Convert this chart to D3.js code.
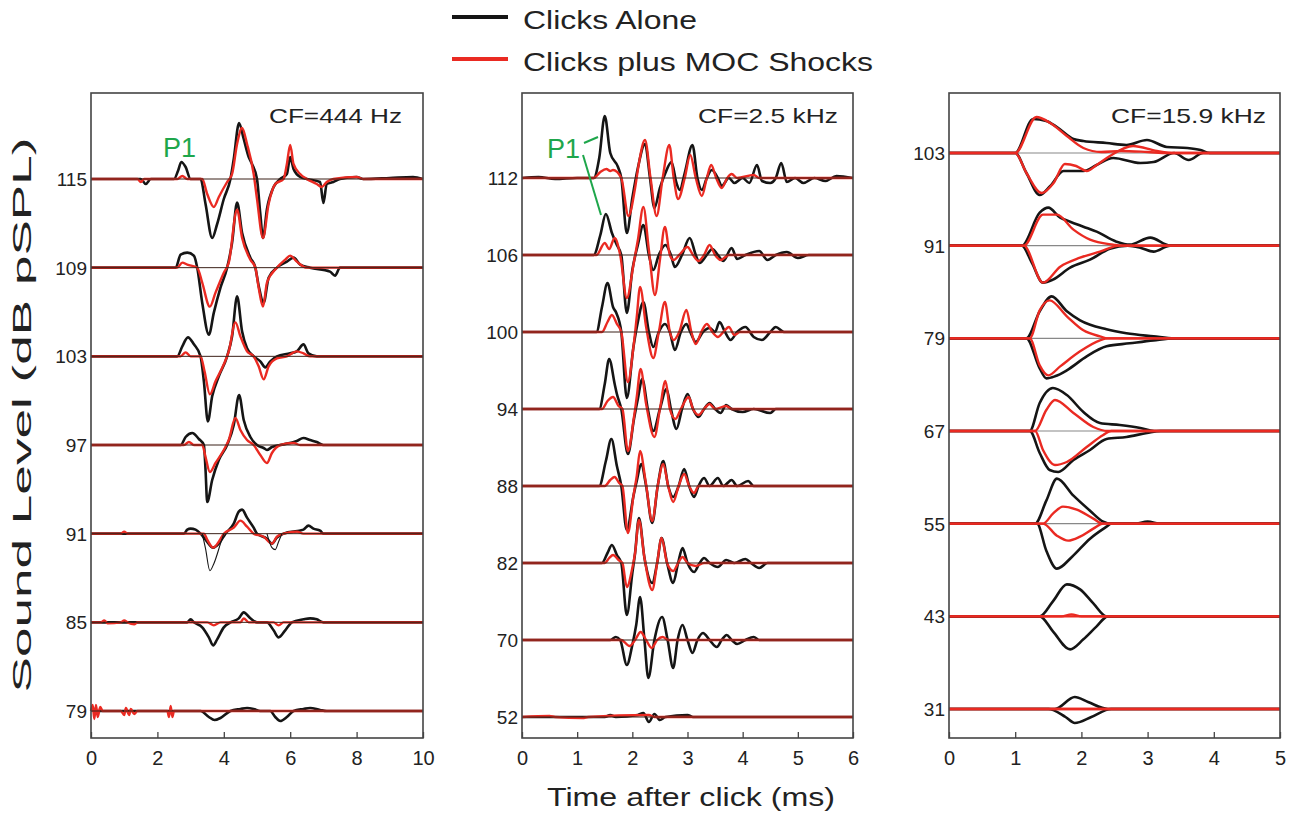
<!DOCTYPE html>
<head>
  <meta charset="utf-8">
  <script src="https://d3js.org/d3.v7.min.js"></script>
  <style>
    body { margin:0; background:#fff; }
    text { font-family: "Liberation Sans", Arial, sans-serif; fill:#222; }
    .tick text { font-family: "Liberation Sans Narrow", "Liberation Sans", Arial, sans-serif; font-size:20px; fill:#222; }
    .tick line { stroke:#444; stroke-width:1.3; }
    .frame { fill:none; stroke:#444; stroke-width:1.6; }
    .black { fill:none; stroke:#151515; stroke-width:2.6; stroke-linejoin:round; }
    .thin { fill:none; stroke:#151515; stroke-width:1.1; }
    .red { fill:none; stroke:#ea2a22; stroke-width:2.4; stroke-linejoin:round; }
    .base { stroke:#3b2018; stroke-width:1; }
    .base3 { stroke:#888; stroke-width:1.2; }
    .rowlab { font-size:19px; }
    .cf { font-size:21px; }
    .p1 { font-size:27px; fill:#1ea64b; }
  </style>
</head>

<body>
  <script>
    // ---- data: amplitudes (arbitrary units, + is up) ----
    // left panel, CF = 444 Hz, time 0-10 ms
    var lowRows = ["115", "109", "103", "97", "91", "85", "79"];
    var lowBlack = [
      [[0,0],[1.5,0],[1.65,-5],[1.8,0],[2.5,0],[2.62,8],[2.72,17],[2.85,12],[3.0,0],[3.3,0],[3.45,-25],[3.65,-59],[3.8,-45],[4.0,-20],[4.2,0],[4.3,20],[4.46,56],[4.6,40],[4.75,22],[4.85,15],[5.0,0],[5.1,-35],[5.18,-59],[5.3,-30],[5.5,-8],[5.7,0],[5.9,5],[6.0,22],[6.1,10],[6.3,2],[6.5,0],[6.9,-3],[7.0,-24],[7.1,-5],[7.3,-3],[7.5,0],[8.0,2],[8.2,0],[9.0,1],[9.7,2],[10,0]],
      [[0,0],[2.55,0],[2.7,13],[2.9,15],[3.1,12],[3.2,0],[3.35,-35],[3.55,-67],[3.7,-45],[3.9,-20],[4.1,0],[4.25,25],[4.4,65],[4.55,35],[4.8,10],[4.95,0],[5.05,-18],[5.2,-35],[5.35,-10],[5.6,0],[5.9,6],[6.1,10],[6.3,3],[6.6,0],[7.2,-4],[7.35,-8],[7.5,0],[10,0]],
      [[0,0],[2.6,0],[2.75,10],[2.92,19],[3.1,12],[3.3,0],[3.4,-25],[3.52,-65],[3.65,-40],[3.85,-20],[4.1,0],[4.25,20],[4.4,60],[4.55,25],[4.7,8],[4.9,0],[5.1,-5],[5.25,-11],[5.4,-5],[5.6,0],[6.0,3],[6.2,5],[6.4,12],[6.55,3],[6.8,0],[10,0]],
      [[0,0],[2.7,0],[2.85,8],[3.05,12],[3.25,6],[3.4,0],[3.45,-25],[3.5,-57],[3.65,-35],[3.85,-15],[4.1,0],[4.3,20],[4.46,50],[4.6,25],[4.8,8],[5.0,0],[5.2,-3],[5.3,-5],[5.45,-2],[5.7,0],[6.2,4],[6.4,7],[6.6,5],[6.8,3],[7.0,0],[10,0]],
      [[0,0],[2.8,0],[2.9,4],[3.0,5],[3.15,4],[3.3,0],[3.45,-6],[3.68,-14],[3.85,-10],[4.05,0],[4.3,10],[4.45,22],[4.55,24],[4.7,16],[4.9,6],[5.0,0],[5.3,-5],[5.45,-10],[5.6,-4],[5.8,0],[6.4,4],[6.55,8],[6.7,5],[6.9,3],[7.0,0],[10,0]],
      [[0,0],[2.9,0],[3.0,3],[3.1,0],[3.35,-5],[3.55,-15],[3.68,-23],[3.8,-17],[4.0,-5],[4.2,0],[4.45,4],[4.6,10],[4.8,4],[5.0,0],[5.3,0],[5.5,-8],[5.65,-15],[5.85,-8],[6.05,0],[6.4,3],[6.6,4],[6.8,3],[7.0,0],[10,0]],
      [[0,0],[0.1,2],[0.2,0],[3.3,0],[3.55,-6],[3.72,-9],[3.9,-7],[4.2,0],[4.5,2],[4.7,3],[4.9,2],[5.1,0],[5.4,0],[5.55,-6],[5.7,-10],[5.9,-6],[6.1,0],[6.4,2],[6.6,3],[6.9,1],[7.1,0],[10,0]]
    ];
    var lowRed = [
      [[0,0],[1.4,0],[1.5,-3],[1.6,0],[2.6,0],[2.75,3],[2.9,0],[3.35,0],[3.5,-15],[3.7,-28],[3.85,-18],[4.1,-3],[4.25,5],[4.4,35],[4.55,51],[4.7,35],[4.9,5],[5.0,-20],[5.18,-59],[5.35,-25],[5.55,-5],[5.8,0],[5.9,15],[6.0,34],[6.1,15],[6.3,5],[6.5,0],[6.8,-5],[6.95,-8],[7.1,-3],[7.3,0],[8.0,2],[8.2,0],[10,0]],
      [[0,0],[2.6,0],[2.75,5],[2.9,3],[3.2,0],[3.35,-15],[3.58,-39],[3.75,-25],[4.0,-5],[4.15,5],[4.4,58],[4.55,30],[4.8,8],[4.95,0],[5.05,-20],[5.18,-39],[5.3,-15],[5.6,0],[5.85,8],[6.0,12],[6.2,6],[6.5,0],[10,0]],
      [[0,0],[2.7,0],[2.85,4],[3.0,0],[3.3,0],[3.42,-15],[3.58,-38],[3.75,-25],[4.0,-8],[4.15,5],[4.35,34],[4.5,20],[4.7,5],[4.9,0],[5.05,-10],[5.2,-23],[5.35,-10],[5.6,-2],[5.9,0],[6.2,5],[6.4,3],[6.6,0],[10,0]],
      [[0,0],[2.8,0],[2.95,3],[3.1,0],[3.35,0],[3.45,-12],[3.58,-27],[3.75,-18],[4.0,-5],[4.15,5],[4.35,27],[4.5,15],[4.7,5],[4.9,0],[5.1,-10],[5.3,-18],[5.45,-8],[5.7,0],[6.1,2],[6.3,0],[10,0]],
      [[0,0],[0.9,0],[1.0,2],[1.1,0],[3.4,0],[3.5,-6],[3.68,-14],[3.85,-8],[4.0,0],[4.3,6],[4.5,13],[4.7,7],[4.9,0],[5.2,-3],[5.45,-10],[5.6,-3],[5.8,0],[6.2,2],[6.4,0],[10,0]],
      [[0,0],[0.3,0],[0.4,2],[0.5,-1],[0.9,0],[1.0,2],[1.1,0],[1.3,-2],[1.4,0],[3.5,0],[3.7,-3],[3.9,0],[4.5,0],[4.6,4],[4.75,0],[5.5,0],[5.65,-3],[5.8,0],[10,0]],
      [[0,0],[0.05,6],[0.1,-8],[0.15,6],[0.2,-6],[0.28,4],[0.35,0],[0.9,0],[1.0,-4],[1.05,3],[1.15,-4],[1.2,2],[1.3,-3],[1.4,0],[2.3,0],[2.35,-6],[2.4,5],[2.45,-6],[2.5,0],[10,0]]
    ];
    // thin black trace drawn under the 91 dB row
    var lowThin91 = [
      [[3.35,0],[3.45,-15],[3.58,-37],[3.7,-30],[3.9,-10],[4.0,0]],
      [[5.3,0],[5.45,-14],[5.55,-16],[5.65,-8],[5.75,0]]
    ];

    // middle panel, CF = 2.5 kHz, time 0-6 ms
    var midRows = ["112", "106", "100", "94", "88", "82", "70", "52"];
    var midBlack = [
      [[0,0],[0.3,1],[0.6,-1],[1.0,0],[1.3,0],[1.4,20],[1.5,62],[1.6,25],[1.74,11],[1.8,0],[1.9,-55],[2.0,-20],[2.1,10],[2.23,34],[2.32,0],[2.4,-30],[2.5,-10],[2.6,5],[2.71,16],[2.8,-5],[2.86,-12],[2.95,5],[3.09,33],[3.18,0],[3.26,-12],[3.35,0],[3.44,8],[3.55,0],[3.62,-8],[3.75,0],[3.85,-5],[4.0,0],[4.12,-5],[4.26,13],[4.35,-3],[4.5,-5],[4.6,0],[4.7,15],[4.8,-4],[4.95,0],[5.1,-5],[5.3,0],[5.5,-3],[5.7,2],[6,0]],
      [[0,0],[1.3,0],[1.42,20],[1.52,41],[1.63,22],[1.72,10],[1.8,0],[1.9,-58],[2.0,-15],[2.1,10],[2.2,30],[2.3,0],[2.38,-15],[2.48,0],[2.6,10],[2.7,0],[2.77,-12],[2.9,0],[3.04,17],[3.15,0],[3.22,-8],[3.35,0],[3.45,6],[3.55,0],[3.65,-6],[3.8,7],[3.9,-4],[4.05,0],[4.3,4],[4.45,-5],[4.6,0],[4.8,3],[5.0,-3],[5.2,0],[6,0]],
      [[0,0],[1.35,0],[1.45,25],[1.55,49],[1.65,25],[1.71,19],[1.8,0],[1.9,-66],[2.02,-15],[2.1,10],[2.2,30],[2.3,0],[2.38,-15],[2.48,0],[2.59,8],[2.68,0],[2.77,-18],[2.88,0],[2.98,8],[3.05,0],[3.15,-10],[3.28,0],[3.4,4],[3.5,0],[3.58,10],[3.68,0],[3.78,-8],[3.9,0],[4.05,5],[4.2,-5],[4.35,-8],[4.5,0],[4.6,5],[4.75,0],[6,0]],
      [[0,0],[1.4,0],[1.5,25],[1.58,50],[1.68,25],[1.72,15],[1.8,0],[1.92,-45],[2.03,-10],[2.1,10],[2.18,30],[2.28,0],[2.38,-22],[2.5,0],[2.62,20],[2.7,0],[2.8,-20],[2.9,0],[3.0,15],[3.1,0],[3.2,-8],[3.3,0],[3.4,6],[3.5,0],[3.6,-4],[3.7,4],[3.8,0],[4.0,-3],[4.2,0],[4.5,-4],[4.6,0],[6,0]],
      [[0,0],[1.4,0],[1.52,25],[1.62,47],[1.72,20],[1.8,0],[1.9,-44],[2.02,-10],[2.08,5],[2.16,22],[2.25,0],[2.36,-37],[2.46,0],[2.56,25],[2.65,0],[2.74,-11],[2.84,0],[2.94,17],[3.03,0],[3.12,-11],[3.2,0],[3.3,8],[3.4,0],[3.55,8],[3.65,0],[3.8,6],[3.9,0],[4.1,5],[4.2,0],[6,0]],
      [[0,0],[1.45,0],[1.55,10],[1.63,18],[1.72,8],[1.8,0],[1.9,-52],[2.0,-10],[2.05,10],[2.12,45],[2.22,5],[2.36,-20],[2.45,0],[2.53,25],[2.63,0],[2.74,-20],[2.83,0],[2.91,15],[3.0,0],[3.12,-9],[3.22,0],[3.3,5],[3.4,0],[3.55,-4],[3.7,3],[3.85,0],[4.05,4],[4.15,0],[4.3,-5],[4.45,0],[6,0]],
      [[0,0],[1.6,0],[1.7,3],[1.78,0],[1.9,-25],[2.0,-5],[2.07,15],[2.14,43],[2.22,0],[2.29,-38],[2.4,0],[2.54,23],[2.64,0],[2.74,-28],[2.82,0],[2.91,15],[3.0,0],[3.09,-13],[3.18,0],[3.28,7],[3.4,0],[3.53,-7],[3.62,0],[3.71,5],[3.8,0],[3.9,-4],[4.05,0],[4.2,3],[4.3,0],[6,0]],
      [[0,0],[1.5,0],[1.6,2],[1.7,0],[2.1,2],[2.2,4],[2.3,-5],[2.4,3],[2.5,-3],[2.6,0],[3.0,2],[3.1,0],[6,0]]
    ];
    var midRed = [
      [[0,0],[1.3,0],[1.42,6],[1.53,9],[1.6,7],[1.65,8],[1.8,0],[1.93,-38],[2.05,-10],[2.12,15],[2.23,38],[2.33,0],[2.44,-38],[2.55,0],[2.67,33],[2.75,0],[2.83,-21],[2.95,0],[3.05,23],[3.15,0],[3.26,-18],[3.35,0],[3.43,13],[3.52,0],[3.62,-10],[3.72,0],[3.8,4],[3.9,0],[4.2,3],[4.3,0],[6,0]],
      [[0,0],[1.35,0],[1.5,12],[1.58,6],[1.68,17],[1.78,0],[1.9,-43],[2.02,-10],[2.1,15],[2.2,48],[2.3,5],[2.41,-40],[2.5,-5],[2.59,28],[2.68,0],[2.75,-5],[2.85,0],[3.0,8],[3.1,0],[3.2,-6],[3.3,0],[3.4,10],[3.5,0],[3.6,-5],[3.75,0],[6,0]],
      [[0,0],[1.45,0],[1.55,10],[1.63,17],[1.72,8],[1.8,0],[1.92,-50],[2.02,-15],[2.08,15],[2.14,45],[2.25,5],[2.38,-26],[2.48,0],[2.59,30],[2.68,0],[2.75,-8],[2.85,0],[2.98,22],[3.07,0],[3.15,-12],[3.25,0],[3.35,8],[3.45,0],[3.55,-5],[3.65,0],[3.75,5],[3.85,-3],[3.95,0],[6,0]],
      [[0,0],[1.45,0],[1.55,8],[1.65,12],[1.75,3],[1.82,0],[1.92,-42],[2.03,-8],[2.08,12],[2.15,40],[2.25,5],[2.4,-28],[2.5,0],[2.6,28],[2.68,0],[2.78,-10],[2.88,0],[3.02,12],[3.1,0],[3.2,-6],[3.3,0],[3.4,5],[3.5,0],[3.7,3],[3.8,0],[6,0]],
      [[0,0],[1.5,0],[1.6,6],[1.68,9],[1.76,3],[1.82,0],[1.92,-47],[2.02,-10],[2.08,10],[2.14,35],[2.24,5],[2.36,-35],[2.46,0],[2.56,22],[2.65,0],[2.74,-16],[2.84,0],[2.94,12],[3.03,0],[3.12,-7],[3.2,0],[6,0]],
      [[0,0],[1.5,0],[1.58,5],[1.65,8],[1.75,3],[1.82,0],[1.9,-24],[2.0,-5],[2.05,10],[2.12,43],[2.22,5],[2.36,-27],[2.45,0],[2.53,25],[2.63,0],[2.74,-8],[2.83,0],[2.91,6],[3.0,0],[3.15,-3],[3.3,0],[6,0]],
      [[0,0],[1.8,0],[1.95,-6],[2.05,0],[2.15,8],[2.25,0],[2.35,-8],[2.45,0],[2.55,3],[2.65,0],[6,0]],
      [[0,0],[0.5,1],[0.6,0],[1.1,-1],[1.2,0],[2.3,2],[2.4,0],[6,0]]
    ];

    // right panel, CF = 15.9 kHz, time 0-5 ms: upper and lower envelopes
    var highRows = ["103", "91", "79", "67", "55", "43", "31"];
    var highBlackUp = [
      [[0,0],[1.0,0],[1.27,34],[1.47,32],[1.63,26],[1.88,14],[2.03,12],[2.38,10],[2.68,8],[2.99,13],[3.29,6],[3.6,5],[3.8,3],[3.94,0],[5,0]],
      [[0,0],[1.1,0],[1.37,33],[1.5,38],[1.68,28],[1.83,24],[2.03,19],[2.23,14],[2.53,4],[2.73,1],[3.04,8],[3.34,0],[5,0]],
      [[0,0],[1.17,0],[1.37,27],[1.55,42],[1.78,27],[1.98,18],[2.38,9],[2.68,5],[3.09,2],[3.4,0],[5,0]],
      [[0,0],[1.22,0],[1.37,28],[1.57,43],[1.78,36],[2.03,19],[2.28,8],[2.58,6],[2.89,3],[3.1,0],[5,0]],
      [[0,0],[1.3,0],[1.47,23],[1.63,45],[1.88,28],[2.13,13],[2.33,2],[2.45,0],[2.8,0],[3.0,2],[3.2,0],[5,0]],
      [[0,0],[1.37,0],[1.57,15],[1.78,32],[1.98,27],[2.18,13],[2.38,0],[5,0]],
      [[0,0],[1.6,0],[1.9,12],[2.1,7],[2.4,0],[5,0]]
    ];
    var highBlackDn = [
      [[0,0],[1.0,0],[1.17,-20],[1.37,-42],[1.53,-33],[1.73,-18],[2.03,-18],[2.23,-12],[2.48,-5],[2.89,-10],[3.09,-9],[3.4,0],[3.62,-7],[3.84,0],[5,0]],
      [[0,0],[1.1,0],[1.25,-17],[1.42,-37],[1.57,-34],[1.83,-22],[2.13,-14],[2.43,-3],[2.7,0],[2.89,-2],[3.09,-6],[3.34,0],[5,0]],
      [[0,0],[1.17,0],[1.37,-30],[1.47,-40],[1.6,-38],[1.78,-32],[2.08,-18],[2.38,-8],[2.73,-5],[3.09,-2],[3.4,0],[5,0]],
      [[0,0],[1.22,0],[1.37,-22],[1.52,-39],[1.65,-41],[1.88,-29],[2.13,-19],[2.38,-8],[2.68,-6],[2.99,-2],[3.2,0],[5,0]],
      [[0,0],[1.33,0],[1.47,-27],[1.63,-45],[1.86,-33],[2.13,-15],[2.38,-3],[2.45,0],[5,0]],
      [[0,0],[1.37,0],[1.57,-15],[1.83,-33],[2.03,-23],[2.23,-10],[2.4,0],[5,0]],
      [[0,0],[1.5,0],[1.76,-8],[1.9,-14],[2.15,-8],[2.45,0],[5,0]]
    ];
    var highRedUp = [
      [[0,0],[1.0,0],[1.32,36],[1.53,30],[1.78,17],[2.03,5],[2.3,1],[2.6,2],[3.0,1],[3.3,0],[5,0]],
      [[0,0],[1.13,0],[1.42,31],[1.63,31],[1.88,16],[2.13,6],[2.48,1],[2.6,0],[5,0]],
      [[0,0],[1.22,0],[1.37,28],[1.52,38],[1.78,22],[2.03,8],[2.28,2],[2.4,0],[5,0]],
      [[0,0],[1.3,0],[1.47,21],[1.6,31],[1.88,18],[2.18,4],[2.4,0],[5,0]],
      [[0,0],[1.42,0],[1.57,10],[1.72,17],[1.93,14],[2.18,5],[2.33,0],[5,0]],
      [[0,0],[1.7,0],[1.85,2],[2.0,0],[5,0]],
      [[0,0],[5,0]]
    ];
    var highRedDn = [
      [[0,0],[1.0,0],[1.17,-20],[1.4,-40],[1.58,-30],[1.75,-11],[1.92,-13],[2.08,-18],[2.23,-12],[2.43,-3],[2.78,7],[3.14,2],[3.4,0],[5,0]],
      [[0,0],[1.13,0],[1.42,-37],[1.68,-21],[1.98,-12],[2.28,-6],[2.58,0],[5,0]],
      [[0,0],[1.22,0],[1.37,-27],[1.5,-37],[1.68,-28],[1.98,-13],[2.28,-2],[2.4,0],[5,0]],
      [[0,0],[1.3,0],[1.42,-19],[1.6,-34],[1.78,-31],[2.08,-16],[2.33,-4],[2.45,0],[5,0]],
      [[0,0],[1.42,0],[1.63,-12],[1.8,-17],[1.98,-13],[2.18,-5],[2.33,0],[5,0]],
      [[0,0],[5,0]],
      [[0,0],[5,0]]
    ];

    var lowTicks = [0, 2, 4, 6, 8, 10],
        midTicks = [0, 1, 2, 3, 4, 5, 6],
        highTicks = [0, 1, 2, 3, 4, 5];

    // ---- layout ----
    var width = 1305, height = 818;
    var frameTop = 93, frameBottom = 738;

    var svg = d3.select("body").append("svg")
        .attr("width", width)
        .attr("height", height);

    // amplitude: values are drawn 1:1 in pixels around each row's baseline
    var amp = d3.scaleLinear().domain([-100, 100]).range([100, -100]);

    function panel(opt) {
      var x = d3.scaleLinear().domain(opt.domain).range([opt.x0, opt.x1]);
      var row = d3.scalePoint().domain(opt.rows).range([opt.r0, opt.r1]);

      var g = svg.append("g");

      var line = function(lab) {
        return d3.line()
          .curve(d3.curveMonotoneX)
          .x(function(d) { return x(d[0]); })
          .y(function(d) { return row(lab) + amp(d[1]); });
      };

      if (opt.under) {
        g.selectAll("line.base3")
          .data(opt.rows)
        .enter().append("line")
          .attr("class", "base3")
          .attr("x1", opt.x0).attr("x2", opt.x1)
          .attr("y1", function(d) { return row(d); })
          .attr("y2", function(d) { return row(d); });
      }

      opt.black.forEach(function(set) {
        g.selectAll(null)
          .data(set)
        .enter().append("path")
          .attr("class", "black")
          .attr("d", function(d, i) { return line(opt.rows[i])(d); });
      });
      opt.red.forEach(function(set) {
        g.selectAll(null)
          .data(set)
        .enter().append("path")
          .attr("class", "red")
          .attr("d", function(d, i) { return line(opt.rows[i])(d); });
      });

      if (opt.thin) {
        g.selectAll(null)
          .data(opt.thin.segs)
        .enter().append("path")
          .attr("class", "thin")
          .attr("d", function(d) { return line(opt.thin.row)(d); });
      }

      if (!opt.under) {
        g.selectAll("line.base")
          .data(opt.rows)
        .enter().append("line")
          .attr("class", "base")
          .attr("x1", opt.x0).attr("x2", opt.x1)
          .attr("y1", function(d) { return row(d); })
          .attr("y2", function(d) { return row(d); });
      }

      g.selectAll("text.rowlab")
        .data(opt.rows)
      .enter().append("text")
        .attr("class", "rowlab")
        .attr("x", opt.x0 - 4)
        .attr("y", function(d) { return row(d); })
        .attr("dy", "0.36em")
        .attr("text-anchor", "end")
        .text(function(d) { return d; });

      g.append("rect")
        .attr("class", "frame")
        .attr("x", opt.x0).attr("y", frameTop)
        .attr("width", opt.x1 - opt.x0)
        .attr("height", frameBottom - frameTop);

      var axis = g.append("g")
        .attr("transform", "translate(0," + frameBottom + ")")
        .call(d3.axisBottom(x).tickValues(opt.ticks).tickSize(-6).tickPadding(13).tickFormat(d3.format("d")));
      axis.select(".domain").remove();

      g.append("text")
        .attr("class", "cf")
        .attr("x", opt.x1 - opt.cfPad)
        .attr("y", 123)
        .attr("text-anchor", "end")
        .attr("textLength", opt.cfLen)
        .attr("lengthAdjust", "spacingAndGlyphs")
        .text(opt.cf);

      return { x: x, row: row, g: g };
    }

    panel({
      x0: 91, x1: 423, domain: [0, 10], ticks: lowTicks,
      rows: lowRows, r0: 179, r1: 711,
      black: [lowBlack], red: [lowRed],
      thin: { row: "91", segs: lowThin91 },
      cf: "CF=444 Hz", cfPad: 21, cfLen: 133
    });

    panel({
      x0: 522, x1: 853, domain: [0, 6], ticks: midTicks,
      rows: midRows, r0: 178, r1: 717,
      black: [midBlack], red: [midRed],
      cf: "CF=2.5 kHz", cfPad: 15, cfLen: 140
    });

    panel({
      x0: 949, x1: 1280, domain: [0, 5], ticks: highTicks,
      rows: highRows, r0: 153, r1: 709,
      black: [highBlackUp, highBlackDn], red: [highRedUp, highRedDn],
      under: true,
      cf: "CF=15.9 kHz", cfPad: 14, cfLen: 155
    });

    // P1 labels
    svg.append("text").attr("class", "p1").attr("x", 163).attr("y", 157).text("P1");
    svg.append("text").attr("class", "p1").attr("x", 547).attr("y", 158).text("P1");
    svg.append("line").attr("x1", 584).attr("y1", 143).attr("x2", 598).attr("y2", 137)
      .attr("stroke", "#1ea64b").attr("stroke-width", 2);
    svg.append("line").attr("x1", 583).attr("y1", 155).attr("x2", 601).attr("y2", 215)
      .attr("stroke", "#1ea64b").attr("stroke-width", 2);

    // legend
    var legend = [
      { label: "Clicks Alone", color: "#151515", y: 17, len: 174 },
      { label: "Clicks plus MOC Shocks", color: "#ea2a22", y: 59, len: 350 }
    ];
    var lg = svg.append("g").selectAll("g")
        .data(legend)
      .enter().append("g");
    lg.append("line")
      .attr("x1", 452).attr("x2", 508)
      .attr("y1", function(d) { return d.y; })
      .attr("y2", function(d) { return d.y; })
      .attr("stroke", function(d) { return d.color; })
      .attr("stroke-width", 4);
    lg.append("text")
      .attr("x", 523)
      .attr("y", function(d) { return d.y + 12; })
      .attr("font-size", 25)
      .attr("textLength", function(d) { return d.len; })
      .attr("lengthAdjust", "spacingAndGlyphs")
      .text(function(d) { return d.label; });

    // axis titles
    svg.append("text")
      .attr("x", 547).attr("y", 806)
      .attr("font-size", 25)
      .attr("textLength", 288)
      .attr("lengthAdjust", "spacingAndGlyphs")
      .text("Time after click (ms)");

    svg.append("text")
      .attr("transform", "translate(31,415) rotate(-90)")
      .attr("text-anchor", "middle")
      .attr("font-size", 25)
      .attr("textLength", 555)
      .attr("lengthAdjust", "spacingAndGlyphs")
      .text("Sound Level (dB pSPL)");
  </script>
</body>
